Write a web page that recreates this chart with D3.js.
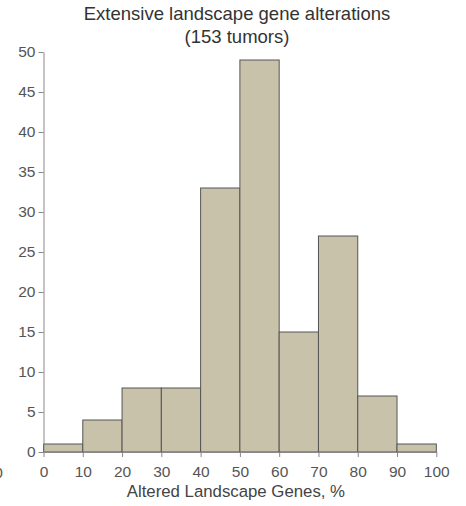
<!DOCTYPE html>
<html><head><meta charset="utf-8">
<script src="https://cdn.jsdelivr.net/npm/d3@7"></script>
<style>body{margin:0;background:#fff}svg{display:block}text{font-family:"Helvetica Neue",Arial,"Liberation Sans",sans-serif}</style>
</head><body><svg id="c" width="466" height="506"></svg>
<script>
const binStarts = [0,10,20,30,40,50,60,70,80,90];
const binWidth = 10;
const counts = [1,4,8,8,33,49,15,27,7,1];
const xTicks = [0,10,20,30,40,50,60,70,80,90,100];
const yTicks = [0,5,10,15,20,25,30,35,40,45,50];
const titleLines = ["Extensive landscape gene alterations","(153 tumors)"];
const xTitle = "Altered Landscape Genes, %";

const svg = d3.select("#c");
const x = d3.scaleLinear().domain([0,100]).range([43.5, 436.3]);
const y = d3.scaleLinear().domain([0,50]).range([452, 52]);

svg.selectAll("rect.bar").data(binStarts).join("rect")
  .attr("class","bar")
  .attr("x", d => x(d))
  .attr("width", d => x(d+binWidth)-x(d))
  .attr("y", (d,i) => y(counts[i]))
  .attr("height", (d,i) => y(0)-y(counts[i]))
  .attr("fill","#c8c2ab").attr("stroke","#555").attr("stroke-width",1);

const ya = svg.append("g").attr("transform",`translate(${x(0)},0)`)
  .call(d3.axisLeft(y).tickValues(yTicks).tickSize(5).tickPadding(3).tickSizeOuter(0));
const xa = svg.append("g").attr("transform",`translate(0,${y(0)})`)
  .call(d3.axisBottom(x).tickValues(xTicks).tickSize(5).tickPadding(9).tickSizeOuter(0));
[ya,xa].forEach(a=>{
  a.selectAll("path,line").attr("stroke","#888");
  a.selectAll("text").attr("fill","#555").style("font-size","15.5px");
});

svg.append("text").attr("x",3).attr("y",477.5).attr("text-anchor","end")
  .attr("fill","#555").style("font-size","15.5px").text("100");

svg.selectAll("text.title").data(titleLines).join("text")
  .attr("class","title").attr("x",237).attr("y",(d,i)=>20+i*23)
  .attr("text-anchor","middle").attr("fill","#333").style("font-size","18.5px").text(d=>d);

svg.append("text").attr("x",x(50)-4).attr("y",497).attr("text-anchor","middle")
  .attr("fill","#444").style("font-size","16.8px").text(xTitle);
</script></body></html>
